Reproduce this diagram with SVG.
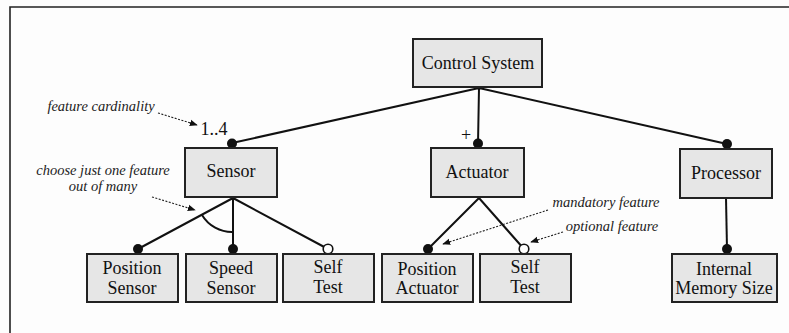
<svg xmlns="http://www.w3.org/2000/svg" width="789" height="333" viewBox="0 0 789 333" font-family="Liberation Serif, DejaVu Serif, serif">
<style>
.box{fill:#e6e6e6;stroke:#222;stroke-width:2}
.t{font-size:18px;fill:#111;text-anchor:middle}
.a{font-size:14.5px;font-style:italic;fill:#222;text-anchor:middle}
.ln{stroke:#111;stroke-width:2;fill:none}
.dt{stroke:#222;stroke-width:1.1;stroke-dasharray:2 1.5;fill:none}
.fd{fill:#111}
.od{fill:#fff;stroke:#111;stroke-width:1.6}
</style>
<defs>
<marker id="ah" viewBox="0 0 10 10" refX="9" refY="5" markerWidth="8" markerHeight="8" markerUnits="userSpaceOnUse" orient="auto">
<path d="M0,1 L10,5 L0,9 Z" fill="#111"/>
</marker>
</defs>
<rect width="789" height="333" fill="#fdfdfd"/>
<path d="M10,333 V7 H789" fill="none" stroke="#222" stroke-width="1.6"/>

<g id="connectors">
<path class="ln" d="M479,88 L232,143 M479,88 L478,144 M479,88 L727,144"/>
<path class="ln" d="M233,198 L138,249 M233,198 L233,248 M233,198 L328,249"/>
<path class="ln" d="M202,215 A35 35 0 0 0 233,232"/>
<path class="ln" d="M479,198 L428,249 M479,198 L524,249"/>
<path class="ln" d="M726,198 L727,249"/>
<circle class="fd" cx="232" cy="143.5" r="5"/>
<circle class="fd" cx="478" cy="143.5" r="5"/>
<circle class="fd" cx="727" cy="144" r="5"/>
<circle class="fd" cx="138" cy="249" r="5"/>
<circle class="fd" cx="233" cy="249" r="5"/>
<circle class="od" cx="328" cy="249" r="4.8"/>
<circle class="fd" cx="428" cy="249" r="5"/>
<circle class="od" cx="524" cy="249" r="4.8"/>
<circle class="fd" cx="727" cy="249" r="5"/>
<text class="t" x="214" y="135">1..4</text>
<text class="t" x="466" y="141">+</text>
</g>

<g id="annotations">
<text class="a" x="101" y="111">feature cardinality</text>
<path class="dt" d="M158,113 L197,125" marker-end="url(#ah)"/>
<text class="a" x="103" y="175">choose just one feature</text>
<text class="a" x="103" y="191">out of many</text>
<path class="dt" d="M152,197 L195,210" marker-end="url(#ah)"/>
<text class="a" x="606" y="207">mandatory feature</text>
<path class="dt" d="M548,210 L443,244" marker-end="url(#ah)"/>
<text class="a" x="612" y="231">optional feature</text>
<path class="dt" d="M563,232 L531,242" marker-end="url(#ah)"/>
</g>

<g id="control-system"><rect class="box" x="413" y="39" width="129" height="48"/><text class="t" x="478" y="69">Control System</text></g>
<g id="sensor"><rect class="box" x="185" y="148" width="92" height="49"/><text class="t" x="231" y="177">Sensor</text></g>
<g id="actuator"><rect class="box" x="431" y="148" width="93" height="49"/><text class="t" x="477" y="178">Actuator</text></g>
<g id="processor"><rect class="box" x="680" y="149" width="92" height="49"/><text class="t" x="726" y="179">Processor</text></g>
<g id="position-sensor"><rect class="box" x="87" y="254" width="91" height="48"/><text class="t" x="132" y="274">Position</text><text class="t" x="132" y="294">Sensor</text></g>
<g id="speed-sensor"><rect class="box" x="186" y="254" width="91" height="48"/><text class="t" x="231" y="274">Speed</text><text class="t" x="231" y="294">Sensor</text></g>
<g id="self-test-1"><rect class="box" x="283" y="254" width="91" height="48"/><text class="t" x="328" y="273">Self</text><text class="t" x="328" y="293">Test</text></g>
<g id="position-actuator"><rect class="box" x="382" y="254" width="91" height="48"/><text class="t" x="427" y="275">Position</text><text class="t" x="427" y="294">Actuator</text></g>
<g id="self-test-2"><rect class="box" x="480" y="254" width="91" height="48"/><text class="t" x="525" y="273">Self</text><text class="t" x="525" y="293">Test</text></g>
<g id="internal-memory-size"><rect class="box" x="672" y="254" width="105" height="48"/><text class="t" x="724" y="275">Internal</text><text class="t" x="724" y="294">Memory Size</text></g>
</svg>
